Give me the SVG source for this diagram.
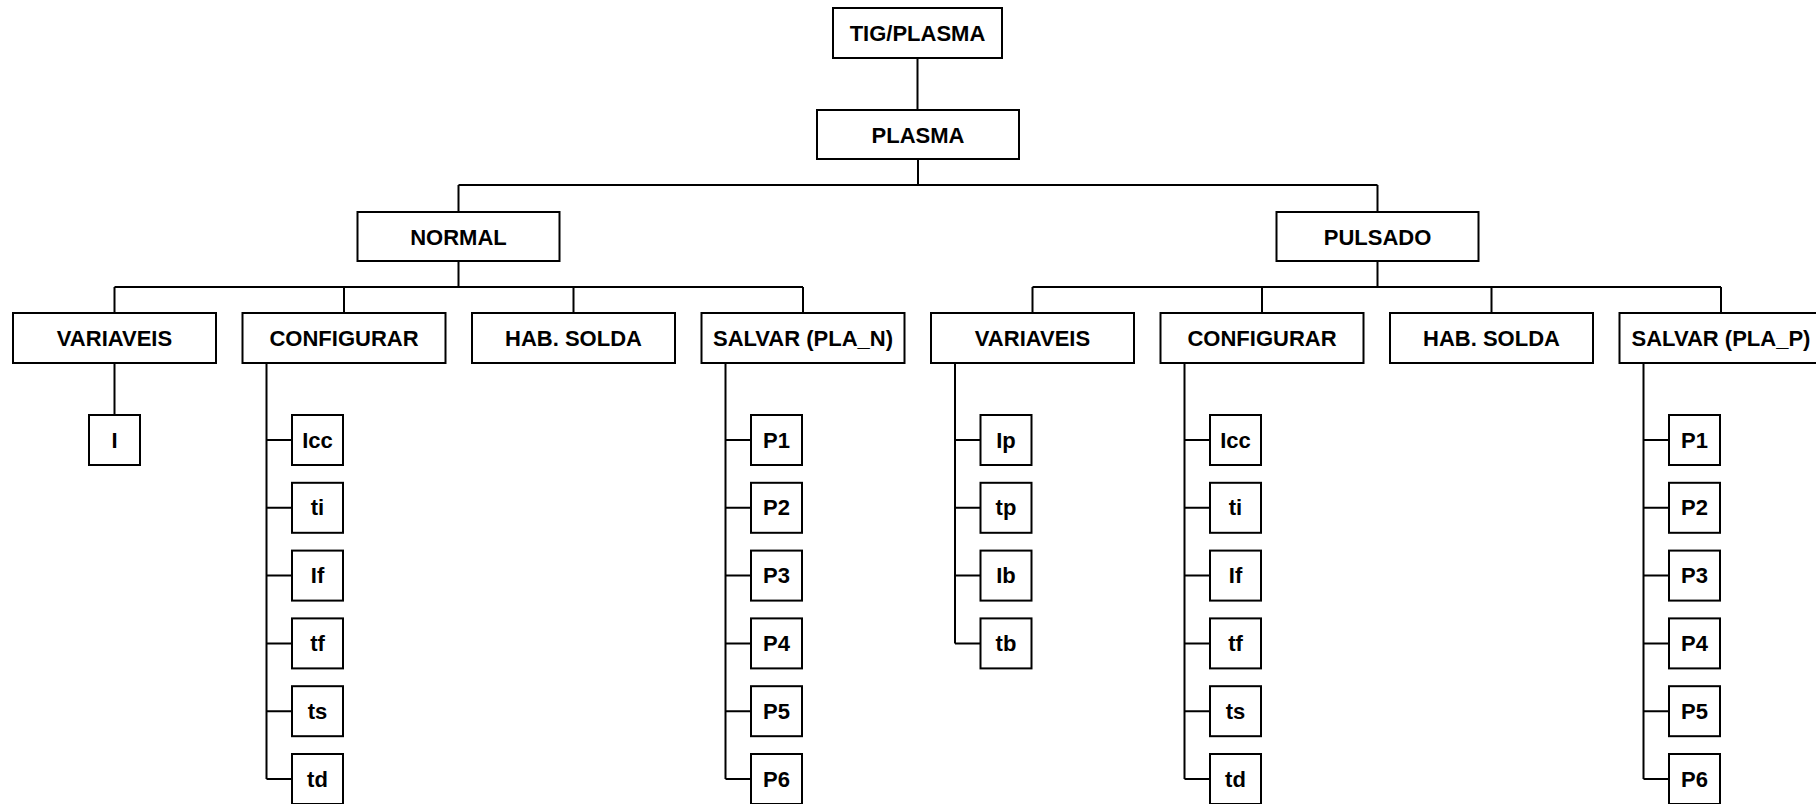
<svg xmlns="http://www.w3.org/2000/svg" width="1816" height="804" viewBox="0 0 1816 804">
<style>
rect{fill:#fff;stroke:#000;stroke-width:2}
text{font-family:"Liberation Sans",Arial,sans-serif;font-weight:bold;font-size:22px;text-anchor:middle;fill:#000}
#connectors path{fill:none;stroke:#000;stroke-width:2}
</style>
<rect x="0" y="0" width="1816" height="804" style="stroke:none"/>
<g id="connectors">
<path d="M917.5 58V110M918 159V185M458.5 185H1377.5M458.5 185V212M1377.5 185V212"/>
<path d="M458.5 261V287M114.5 287H803M114.5 287V313M344 287V313M573.5 287V313M803 287V313"/>
<path d="M1377.5 261V287M1032.5 287H1721M1032.5 287V313M1262 287V313M1491.5 287V313M1721 287V313"/>
<path d="M114.5 363V415"/>
<path d="M266.5 363V779M266.5 440H292M266.5 507.8H292M266.5 575.6H292M266.5 643.4H292M266.5 711.2H292M266.5 779H292"/>
<path d="M725.5 363V779M725.5 440H751M725.5 507.8H751M725.5 575.6H751M725.5 643.4H751M725.5 711.2H751M725.5 779H751"/>
<path d="M955 363V643.4M955 440H980.5M955 507.8H980.5M955 575.6H980.5M955 643.4H980.5"/>
<path d="M1184.5 363V779M1184.5 440H1210M1184.5 507.8H1210M1184.5 575.6H1210M1184.5 643.4H1210M1184.5 711.2H1210M1184.5 779H1210"/>
<path d="M1643.5 363V779M1643.5 440H1669M1643.5 507.8H1669M1643.5 575.6H1669M1643.5 643.4H1669M1643.5 711.2H1669M1643.5 779H1669"/>
</g>
<g id="tig"><rect x="833" y="8" width="169" height="50"/><text x="917.5" y="40.5">TIG/PLASMA</text></g>
<g id="plasma"><rect x="817" y="110" width="202" height="49"/><text x="918" y="142.5">PLASMA</text></g>
<g id="normal"><rect x="357.5" y="212" width="202" height="49"/><text x="458.5" y="244.5">NORMAL</text></g>
<g id="pulsado"><rect x="1276.5" y="212" width="202" height="49"/><text x="1377.5" y="244.5">PULSADO</text></g>
<g id="n-variaveis"><rect x="13" y="313" width="203" height="50"/><text x="114.5" y="345.5">VARIAVEIS</text></g>
<g id="n-configurar"><rect x="242.5" y="313" width="203" height="50"/><text x="344" y="345.5">CONFIGURAR</text></g>
<g id="n-hab"><rect x="472" y="313" width="203" height="50"/><text x="573.5" y="345.5">HAB. SOLDA</text></g>
<g id="n-salvar"><rect x="701.5" y="313" width="203" height="50"/><text x="803" y="345.5">SALVAR (PLA_N)</text></g>
<g id="p-variaveis"><rect x="931" y="313" width="203" height="50"/><text x="1032.5" y="345.5">VARIAVEIS</text></g>
<g id="p-configurar"><rect x="1160.5" y="313" width="203" height="50"/><text x="1262" y="345.5">CONFIGURAR</text></g>
<g id="p-hab"><rect x="1390" y="313" width="203" height="50"/><text x="1491.5" y="345.5">HAB. SOLDA</text></g>
<g id="p-salvar"><rect x="1619.5" y="313" width="203" height="50"/><text x="1721" y="345.5">SALVAR (PLA_P)</text></g>
<g id="n-I"><rect x="89" y="415" width="51" height="50"/><text x="114.5" y="447.5">I</text></g>
<g id="nc-Icc"><rect x="292" y="415" width="51" height="50"/><text x="317.5" y="447.5">Icc</text></g>
<g id="nc-ti"><rect x="292" y="482.8" width="51" height="50"/><text x="317.5" y="515.3">ti</text></g>
<g id="nc-If"><rect x="292" y="550.6" width="51" height="50"/><text x="317.5" y="583.1">If</text></g>
<g id="nc-tf"><rect x="292" y="618.4" width="51" height="50"/><text x="317.5" y="650.9">tf</text></g>
<g id="nc-ts"><rect x="292" y="686.2" width="51" height="50"/><text x="317.5" y="718.7">ts</text></g>
<g id="nc-td"><rect x="292" y="754" width="51" height="50"/><text x="317.5" y="786.5">td</text></g>
<g id="ns-P1"><rect x="751" y="415" width="51" height="50"/><text x="776.5" y="447.5">P1</text></g>
<g id="ns-P2"><rect x="751" y="482.8" width="51" height="50"/><text x="776.5" y="515.3">P2</text></g>
<g id="ns-P3"><rect x="751" y="550.6" width="51" height="50"/><text x="776.5" y="583.1">P3</text></g>
<g id="ns-P4"><rect x="751" y="618.4" width="51" height="50"/><text x="776.5" y="650.9">P4</text></g>
<g id="ns-P5"><rect x="751" y="686.2" width="51" height="50"/><text x="776.5" y="718.7">P5</text></g>
<g id="ns-P6"><rect x="751" y="754" width="51" height="50"/><text x="776.5" y="786.5">P6</text></g>
<g id="pv-Ip"><rect x="980.5" y="415" width="51" height="50"/><text x="1006" y="447.5">Ip</text></g>
<g id="pv-tp"><rect x="980.5" y="482.8" width="51" height="50"/><text x="1006" y="515.3">tp</text></g>
<g id="pv-Ib"><rect x="980.5" y="550.6" width="51" height="50"/><text x="1006" y="583.1">Ib</text></g>
<g id="pv-tb"><rect x="980.5" y="618.4" width="51" height="50"/><text x="1006" y="650.9">tb</text></g>
<g id="pc-Icc"><rect x="1210" y="415" width="51" height="50"/><text x="1235.5" y="447.5">Icc</text></g>
<g id="pc-ti"><rect x="1210" y="482.8" width="51" height="50"/><text x="1235.5" y="515.3">ti</text></g>
<g id="pc-If"><rect x="1210" y="550.6" width="51" height="50"/><text x="1235.5" y="583.1">If</text></g>
<g id="pc-tf"><rect x="1210" y="618.4" width="51" height="50"/><text x="1235.5" y="650.9">tf</text></g>
<g id="pc-ts"><rect x="1210" y="686.2" width="51" height="50"/><text x="1235.5" y="718.7">ts</text></g>
<g id="pc-td"><rect x="1210" y="754" width="51" height="50"/><text x="1235.5" y="786.5">td</text></g>
<g id="ps-P1"><rect x="1669" y="415" width="51" height="50"/><text x="1694.5" y="447.5">P1</text></g>
<g id="ps-P2"><rect x="1669" y="482.8" width="51" height="50"/><text x="1694.5" y="515.3">P2</text></g>
<g id="ps-P3"><rect x="1669" y="550.6" width="51" height="50"/><text x="1694.5" y="583.1">P3</text></g>
<g id="ps-P4"><rect x="1669" y="618.4" width="51" height="50"/><text x="1694.5" y="650.9">P4</text></g>
<g id="ps-P5"><rect x="1669" y="686.2" width="51" height="50"/><text x="1694.5" y="718.7">P5</text></g>
<g id="ps-P6"><rect x="1669" y="754" width="51" height="50"/><text x="1694.5" y="786.5">P6</text></g>
</svg>
